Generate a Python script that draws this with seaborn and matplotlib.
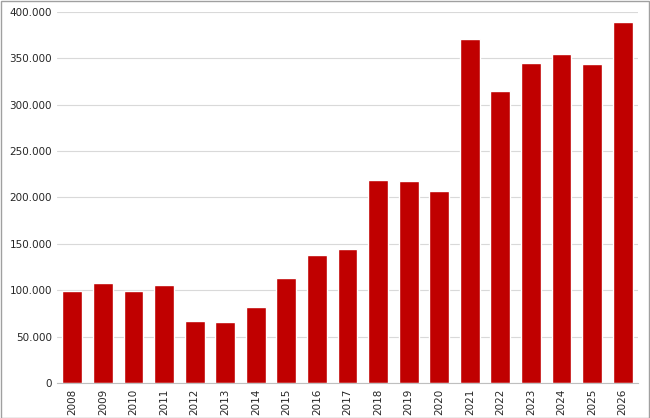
import matplotlib
matplotlib.use("Agg")
import matplotlib.pyplot as plt
import seaborn as sns
import pandas as pd
from matplotlib.ticker import FuncFormatter, MultipleLocator

years = [str(y) for y in range(2008, 2027)]
values = [99000, 108000, 99000, 106000, 67000, 66000, 82000, 113000, 138000, 145000,
          219000, 218000, 207000, 371000, 315000, 345000, 355000, 344000, 389000]

df = pd.DataFrame({"year": years, "value": values})
sns.set_style("white")
plt.rcParams['font.family'] = ['DejaVu Sans']

fig = plt.figure(figsize=(6.5, 4.18), dpi=100)
ax = fig.add_axes([57/650, 35/418, (638-57)/650, (383-12)/418])
sns.barplot(data=df, x="year", y="value", color="#C00000", saturation=1, width=0.65, ax=ax)
ax.set_ylim(0, 400000)
ax.set_xlim(-0.5, len(years) - 0.5)
ax.yaxis.set_major_locator(MultipleLocator(50000))
ax.yaxis.set_major_formatter(FuncFormatter(lambda v, p: f"{int(v):,}".replace(",", ".")))
ax.grid(axis="y", color="#D9D9D9", linewidth=0.8)
ax.set_axisbelow(True)
ax.set_xlabel("")
ax.set_ylabel("")
for s in ["top", "right", "left"]:
    ax.spines[s].set_visible(False)
ax.spines["bottom"].set_color("#BFBFBF")
ax.tick_params(axis="x", rotation=90, labelsize=7.5, length=0, pad=4)
ax.tick_params(axis="y", labelsize=7.5, length=0)
# category separator ticks
ax.set_xticks([i - 0.5 for i in range(len(years) + 1)], minor=True)
ax.tick_params(axis="x", which="minor", length=5, color="#BFBFBF")
fig.patches.append(plt.Rectangle((0.001, 0.001), 0.997, 0.997, transform=fig.transFigure,
                                 fill=False, edgecolor="#A0A0A0", linewidth=1))
fig.savefig("out.png", dpi=100)
